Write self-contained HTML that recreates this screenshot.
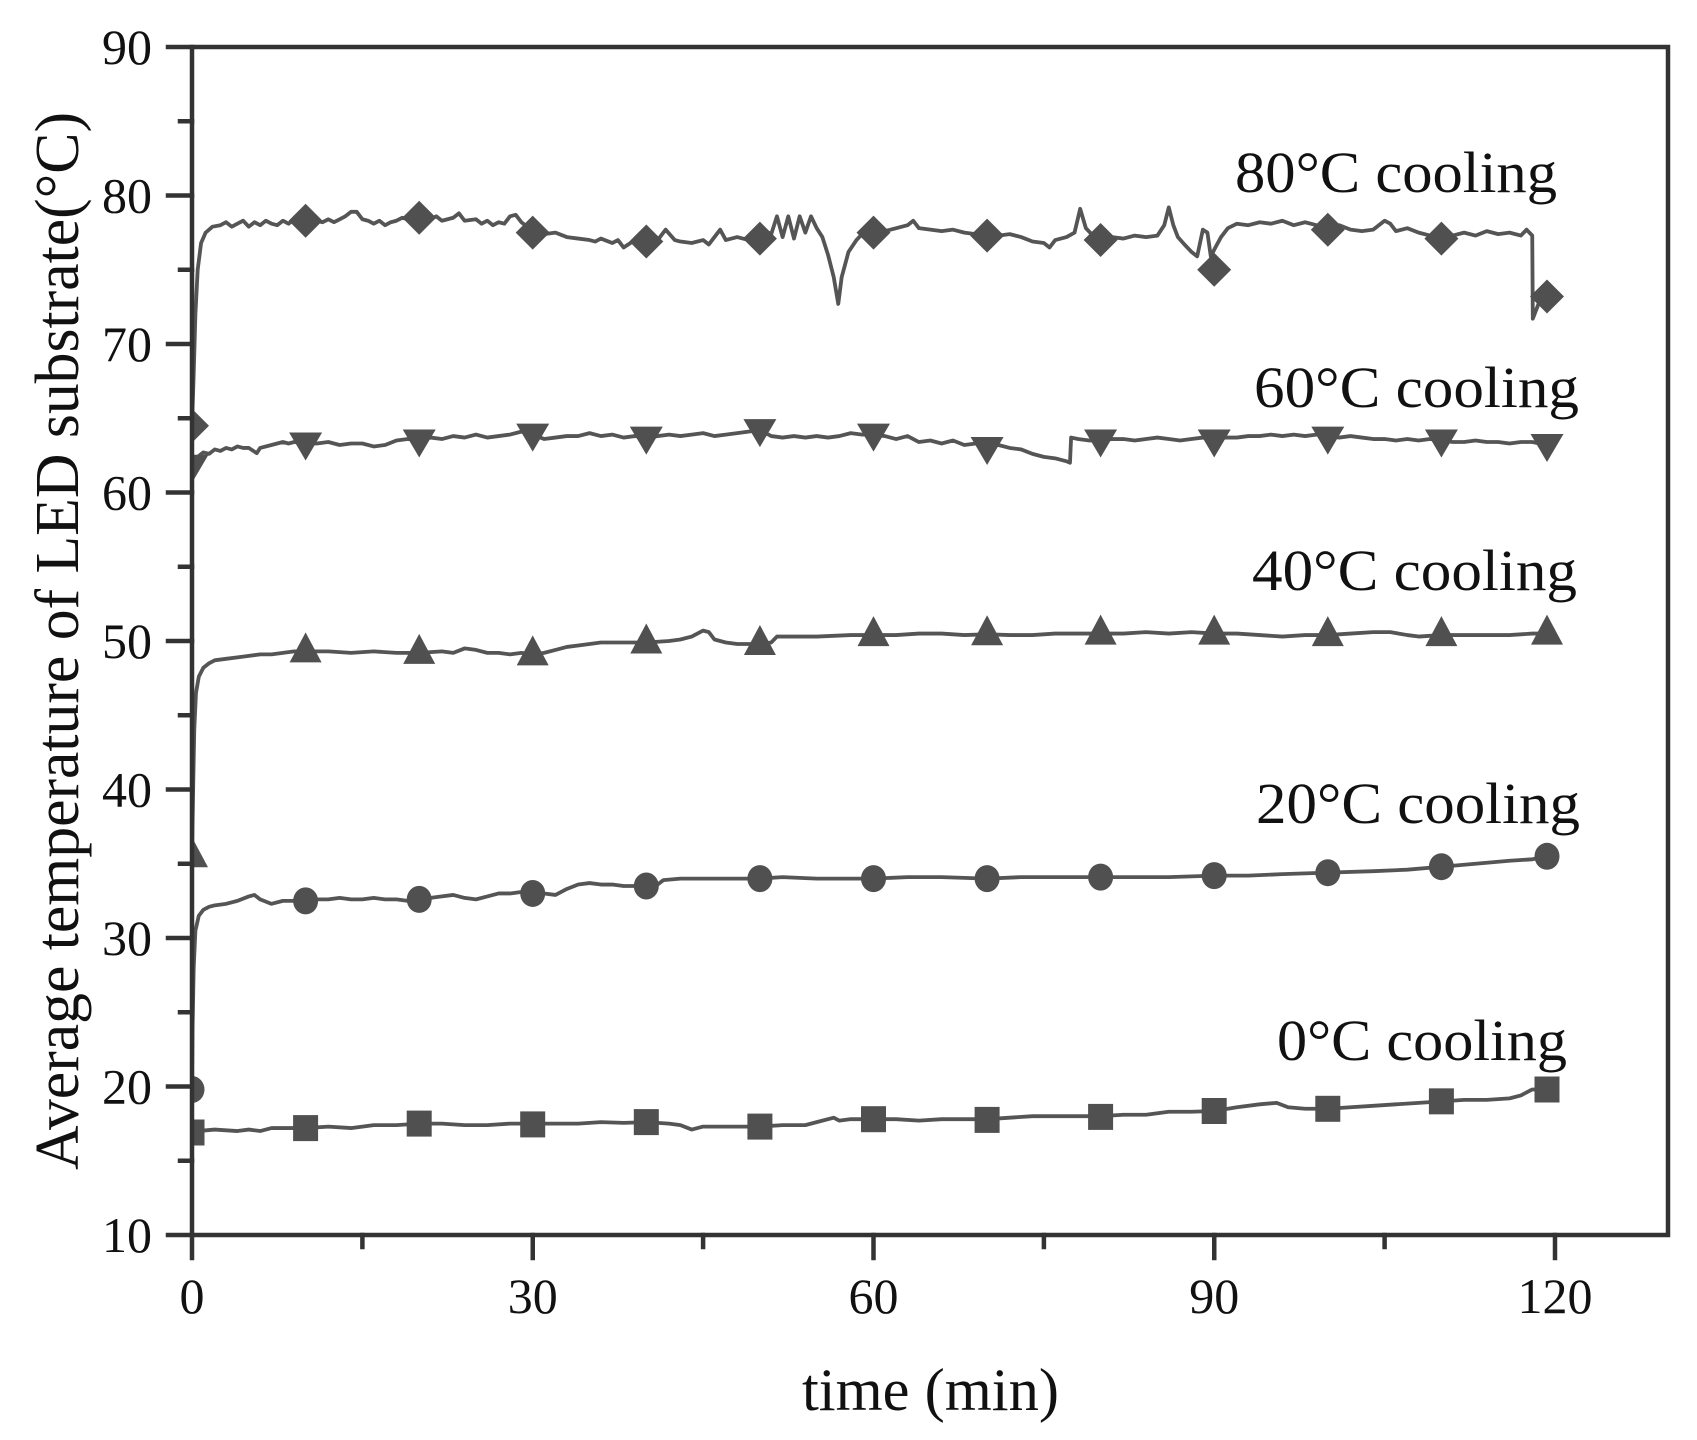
<!DOCTYPE html>
<html><head><meta charset="utf-8">
<style>
html,body{margin:0;padding:0;background:#fff;}
svg{display:block;}
text{font-family:"Liberation Serif","Times New Roman",serif;fill:#111;}
</style></head>
<body>
<svg width="1697" height="1440" viewBox="0 0 1697 1440" xmlns="http://www.w3.org/2000/svg">
<rect x="0" y="0" width="1697" height="1440" fill="#fff"/>
<defs><clipPath id="c"><rect x="192" y="47" width="1476" height="1188"/></clipPath></defs>

<g clip-path="url(#c)">
 <g transform="matrix(11.358 0 0 -14.85 192 1383.5)" fill="none" stroke="#555" stroke-width="3.8" stroke-linejoin="round" stroke-linecap="round">
  <!-- 80C -->
  <polyline vector-effect="non-scaling-stroke" points="0,64.5 0.15,68 0.3,72 0.5,75 0.8,76.8 1.2,77.5 1.8,77.9 2.5,78.0 3,78.2 3.5,77.9 4,78.1 4.5,78.3 5,77.9 5.5,78.2 6,78.0 6.5,78.3 7,78.1 7.5,78.0 8,78.3 8.5,78.1 9,78.4 9.5,78.2 10,78.3 10.5,78.1 11,78.3 11.5,78.2 12,78.4 12.5,78.2 13,78.4 13.5,78.6 14,78.9 14.5,78.9 15,78.4 15.5,78.3 16,78.1 16.5,78.3 17,78.0 17.5,78.2 18,78.3 18.5,78.5 19,78.4 20,78.5 21,78.4 21.5,78.6 22,78.3 23,78.5 23.5,78.8 24,78.3 25,78.4 25.5,78.1 26,78.3 26.5,78.0 27,78.2 27.5,78.1 28,78.6 28.5,78.7 29,78.2 29.5,77.9 30,77.6 31,77.4 32,77.5 33,77.2 34,77.1 35,77.0 35.5,76.9 36,77.1 37,76.8 37.5,77.0 38,76.5 39,77.0 40,76.9 41,77.0 41.7,77.7 42.5,77.0 43,76.9 44,76.8 45,77.0 45.5,76.7 46,77.2 46.5,77.7 47,77.0 48,77.2 49,77.0 50,77.0 50.5,77.6 51,77.4 51.5,78.6 52,77.2 52.5,78.6 53,77.1 53.5,78.6 54,77.5 54.5,78.6 55,77.8 55.5,77.2 56,76.0 56.5,74.5 56.9,72.7 57.2,74.5 57.8,76.2 58.5,77.0 59,77.4 60,77.5 60.5,77.8 61,77.6 62,77.8 63,78.0 63.5,78.3 64,77.8 65,77.7 66,77.6 67,77.7 68,77.5 69,77.4 70,77.3 71,77.3 72,77.4 73,77.2 74,76.9 75,76.8 75.5,76.5 76,77.0 77,77.2 77.7,77.5 78.2,79.1 78.7,77.8 79.2,77.4 80,77.0 81,77.2 82,77.1 83,77.3 84,77.2 85,77.3 85.6,78.0 86,79.2 86.4,78.0 86.8,77.2 87.5,76.6 88,76.2 88.5,75.9 89,77.7 89.4,77.5 89.7,75.9 90.1,76.5 90.6,77.2 91.2,77.8 92,78.1 93,78.0 94,78.2 95,78.1 96,78.3 97,78.0 98,78.2 99,78.0 100,77.8 101,78.0 102,77.7 103,77.6 104,77.7 105,78.3 105.5,78.1 106,77.6 107,77.8 108,77.5 109,77.3 110,77.1 111,77.3 112,77.5 113,77.3 114,77.6 115,77.4 116,77.5 117,77.3 117.5,77.7 118,77.3 118.05,71.7 118.3,72.2 118.6,72.8 119.3,73.2"/>
  <!-- 60C -->
  <polyline vector-effect="non-scaling-stroke" points="0,61.8 0.2,62.0 0.5,62.4 1,62.7 1.5,62.6 2,62.9 2.5,62.8 3,63.0 3.5,62.9 4,63.1 4.5,63.0 5,63.0 5.7,62.65 6,63.0 7,63.2 8,63.4 8.5,63.3 9,63.4 10,63.3 11,63.3 12,63.4 13,63.2 14,63.3 15,63.3 16,63.1 17,63.2 18,63.5 19,63.6 20,63.5 21,63.7 22,63.6 23,63.8 24,63.7 25,63.9 26,63.7 27,63.8 28,63.9 29,64.1 30,63.9 31,63.6 32,63.7 33,63.8 34,63.8 35,64.0 36,63.8 37,63.9 38,63.7 39,63.8 40,63.7 41,63.8 42,63.9 43,63.8 44,63.9 45,64.0 46,63.8 47,63.9 48,64.0 49,64.1 50,64.2 51,63.8 52,63.7 53,63.8 54,63.7 55,63.8 56,63.7 57,63.8 58,64.0 59,63.9 60,63.9 61,63.8 62,63.6 63,63.8 64,63.4 65,63.5 66,63.3 67,63.5 68,63.2 69,63.3 70,63.1 71,63.2 72,63.0 73,62.9 74,62.6 75,62.4 76,62.3 77,62.1 77.3,62.0 77.4,63.7 78,63.6 79,63.5 80,63.5 81,63.6 82,63.6 83,63.5 84,63.6 85,63.7 86,63.6 87,63.5 88,63.6 89,63.7 90,63.6 91,63.7 92,63.7 93,63.8 94,63.8 95,63.9 96,63.8 97,63.9 98,63.8 99,63.9 100,63.8 101,63.7 102,63.8 103,63.7 104,63.6 105,63.6 106,63.5 107,63.6 108,63.5 109,63.6 110,63.5 111,63.4 112,63.4 113,63.5 114,63.4 115,63.4 116,63.3 117,63.4 118,63.4 119.3,63.2"/>
  <!-- 40C -->
  <polyline vector-effect="non-scaling-stroke" points="0,35.5 0.1,40 0.2,44 0.35,46.5 0.6,47.6 1,48.2 1.5,48.5 2,48.7 3,48.8 4,48.9 5,49.0 6,49.1 7,49.1 8,49.2 9,49.3 10,49.3 12,49.3 14,49.2 16,49.3 18,49.2 20,49.2 22,49.3 23,49.2 24,49.5 25,49.4 26,49.2 27,49.2 28,49.1 29,49.2 30,49.1 31,49.2 32,49.4 33,49.6 34,49.7 35,49.8 36,49.9 38,49.9 40,49.9 42,50.0 43,50.1 44,50.3 45,50.7 45.5,50.6 46,50.1 47,49.9 48,49.8 49,49.8 50,49.8 51,49.9 51.5,50.3 53,50.3 55,50.3 58,50.4 60,50.4 62,50.4 64,50.5 66,50.5 68,50.4 70,50.45 72,50.4 74,50.4 76,50.5 78,50.5 80,50.5 82,50.5 84,50.6 86,50.5 88,50.6 90,50.5 92,50.5 94,50.4 96,50.3 98,50.4 100,50.4 102,50.5 104,50.6 105.5,50.6 107,50.4 108,50.3 110,50.4 112,50.4 114,50.4 116,50.4 118,50.5 119.3,50.5"/>
  <!-- 20C -->
  <polyline vector-effect="non-scaling-stroke" points="0,19.8 0.05,24 0.15,28 0.3,30.5 0.6,31.5 1,31.9 1.5,32.1 2,32.2 3,32.3 4,32.5 5,32.8 5.5,32.9 6,32.6 7,32.3 8,32.5 9,32.5 10,32.5 11,32.6 12,32.6 13,32.7 14,32.6 15,32.6 16,32.7 17,32.6 18,32.6 19,32.5 20,32.6 21,32.7 22,32.8 23,32.9 24,32.7 25,32.6 26,32.8 27,33.0 28,33.0 29,33.1 30,33.0 31,33.0 32,32.9 33,33.3 34,33.6 35,33.7 36,33.6 37,33.6 38,33.5 39,33.5 40,33.5 41,33.6 41.5,33.9 43,34.0 45,34.0 48,34.0 50,34.0 52,34.1 55,34.0 58,34.0 60,34.0 63,34.1 66,34.1 70,34.0 73,34.1 76,34.1 80,34.1 83,34.1 86,34.1 90,34.2 93,34.2 96,34.3 100,34.4 104,34.5 107,34.6 110,34.8 113,35.0 116,35.2 118,35.3 119.3,35.5"/>
  <!-- 0C -->
  <polyline vector-effect="non-scaling-stroke" points="0,16.9 0.5,17.0 2,17.1 4,17.0 5,17.1 6,17.0 7,17.2 8,17.2 10,17.2 12,17.3 14,17.2 16,17.4 18,17.4 20,17.5 22,17.5 24,17.4 26,17.4 28,17.5 30,17.5 32,17.5 34,17.5 36,17.6 38,17.55 40,17.6 42,17.5 43,17.4 44,17.1 45,17.3 47,17.3 50,17.3 52,17.4 54,17.4 55,17.6 56.5,17.9 57,17.7 58,17.8 60,17.8 62,17.8 64,17.7 66,17.8 68,17.8 70,17.8 72,17.9 74,18.0 76,18.0 78,18.0 80,18.0 82,18.1 84,18.1 86,18.3 88,18.3 90,18.35 92,18.6 94,18.8 95.5,18.9 96.5,18.6 98,18.5 100,18.5 102,18.6 104,18.7 106,18.8 108,18.9 110,19.0 112,19.1 114,19.1 116,19.2 117,19.4 118,19.8 119.3,19.8"/>
 </g>

 <g fill="#505050" stroke="none">
  <!-- diamonds (80C) -->
  <path d="M192 408.7l17 17-17 17-17-17z"/>
  <path d="M305.6 203.7l17 17-17 17-17-17z"/>
  <path d="M419.2 200.8l17 17-17 17-17-17z"/>
  <path d="M532.7 215.6l17 17-17 17-17-17z"/>
  <path d="M646.3 224.5l17 17-17 17-17-17z"/>
  <path d="M759.9 221.6l17 17-17 17-17-17z"/>
  <path d="M873.5 215.6l17 17-17 17-17-17z"/>
  <path d="M987.1 218.6l17 17-17 17-17-17z"/>
  <path d="M1100.6 223l17 17-17 17-17-17z"/>
  <path d="M1214.2 252.75l17 17-17 17-17-17z"/>
  <path d="M1327.8 212.7l17 17-17 17-17-17z"/>
  <path d="M1441.4 221.6l17 17-17 17-17-17z"/>
  <path d="M1547 279.5l17 17-17 17-17-17z"/>
  <!-- down triangles (60C) -->
  <path d="M175.5 454.8h33l-16.5 28z"/>
  <path d="M289.1 432.5h33l-16.5 28z"/>
  <path d="M402.7 429.5h33l-16.5 28z"/>
  <path d="M516.2 423.6h33l-16.5 28z"/>
  <path d="M629.8 426.6h33l-16.5 28z"/>
  <path d="M743.4 419.1h33l-16.5 28z"/>
  <path d="M857 423.6h33l-16.5 28z"/>
  <path d="M970.6 437h33l-16.5 28z"/>
  <path d="M1084.1 429.5h33l-16.5 28z"/>
  <path d="M1197.7 429.5h33l-16.5 28z"/>
  <path d="M1311.3 426.6h33l-16.5 28z"/>
  <path d="M1424.9 429.5h33l-16.5 28z"/>
  <path d="M1530.5 434h33l-16.5 28z"/>
  <!-- up triangles (40C) -->
  <path d="M192 837.3l16 30h-32z"/>
  <path d="M305.6 632.4l16 30h-32z"/>
  <path d="M419.2 633.9l16 30h-32z"/>
  <path d="M532.7 635.4l16 30h-32z"/>
  <path d="M646.3 623.5l16 30h-32z"/>
  <path d="M759.9 625l16 30h-32z"/>
  <path d="M873.5 616.1l16 30h-32z"/>
  <path d="M987.1 615.3l16 30h-32z"/>
  <path d="M1100.6 614.6l16 30h-32z"/>
  <path d="M1214.2 614.6l16 30h-32z"/>
  <path d="M1327.8 616.1l16 30h-32z"/>
  <path d="M1441.4 616.1l16 30h-32z"/>
  <path d="M1547 614.6l16 30h-32z"/>
  <!-- circles (20C) -->
  <ellipse cx="192" cy="1089.5" rx="12.5" ry="13.5"/>
  <ellipse cx="305.6" cy="900.9" rx="12.5" ry="13.5"/>
  <ellipse cx="419.2" cy="899.4" rx="12.5" ry="13.5"/>
  <ellipse cx="532.7" cy="893.45" rx="12.5" ry="13.5"/>
  <ellipse cx="646.3" cy="886" rx="12.5" ry="13.5"/>
  <ellipse cx="759.9" cy="878.6" rx="12.5" ry="13.5"/>
  <ellipse cx="873.5" cy="878.6" rx="12.5" ry="13.5"/>
  <ellipse cx="987.1" cy="878.6" rx="12.5" ry="13.5"/>
  <ellipse cx="1100.6" cy="877.1" rx="12.5" ry="13.5"/>
  <ellipse cx="1214.2" cy="875.6" rx="12.5" ry="13.5"/>
  <ellipse cx="1327.8" cy="872.7" rx="12.5" ry="13.5"/>
  <ellipse cx="1441.4" cy="866.7" rx="12.5" ry="13.5"/>
  <ellipse cx="1547" cy="856.3" rx="12.5" ry="13.5"/>
  <!-- squares (0C) -->
  <rect x="179.5" y="1119.5" width="25" height="26"/>
  <rect x="293.1" y="1115.1" width="25" height="26"/>
  <rect x="406.7" y="1110.6" width="25" height="26"/>
  <rect x="520.2" y="1111.4" width="25" height="26"/>
  <rect x="633.8" y="1109.1" width="25" height="26"/>
  <rect x="747.4" y="1113.6" width="25" height="26"/>
  <rect x="861" y="1106.2" width="25" height="26"/>
  <rect x="974.6" y="1106.9" width="25" height="26"/>
  <rect x="1088.1" y="1103.9" width="25" height="26"/>
  <rect x="1201.7" y="1098" width="25" height="26"/>
  <rect x="1315.3" y="1095.8" width="25" height="26"/>
  <rect x="1428.9" y="1088.35" width="25" height="26"/>
  <rect x="1534.5" y="1076.5" width="25" height="26"/>
 </g>
</g>

<!-- axes frame -->
<g stroke="#333" stroke-width="4.5" fill="none" stroke-linecap="square">
 <rect x="192" y="47" width="1476" height="1188"/>
 <path d="M168 47H192M168 195.5H192M168 344H192M168 492.5H192M168 641H192M168 789.5H192M168 938H192M168 1086.5H192M168 1235H192"/>
 <path d="M180 121.25H192M180 269.75H192M180 418.25H192M180 566.75H192M180 715.25H192M180 863.75H192M180 1012.25H192M180 1160.75H192"/>
 <path d="M192 1235V1258M532.75 1235V1258M873.5 1235V1258M1214.25 1235V1258M1555 1235V1258"/>
 <path d="M362.4 1235V1247M703.1 1235V1247M1043.9 1235V1247M1384.6 1235V1247"/>
</g>

<!-- y tick labels -->
<g font-size="50" text-anchor="end">
 <text x="152" y="64">90</text>
 <text x="152" y="212.5">80</text>
 <text x="152" y="361">70</text>
 <text x="152" y="509.5">60</text>
 <text x="152" y="658">50</text>
 <text x="152" y="806.5">40</text>
 <text x="152" y="955">30</text>
 <text x="152" y="1103.5">20</text>
 <text x="152" y="1252">10</text>
</g>
<!-- x tick labels -->
<g font-size="50" text-anchor="middle">
 <text x="192" y="1313">0</text>
 <text x="532.75" y="1313">30</text>
 <text x="873.5" y="1313">60</text>
 <text x="1214.25" y="1313">90</text>
 <text x="1555" y="1313">120</text>
</g>

<!-- axis titles -->
<text x="802" y="1410" font-size="60" textLength="257" lengthAdjust="spacingAndGlyphs">time (min)</text>
<text transform="translate(78,641) rotate(-90)" x="0" y="0" font-size="62" text-anchor="middle" textLength="1058" lengthAdjust="spacingAndGlyphs">Average temperature of LED substrate(°C)</text>

<!-- annotations -->
<g font-size="58">
 <text x="1235" y="192" textLength="322" lengthAdjust="spacingAndGlyphs">80°C cooling</text>
 <text x="1254" y="407" textLength="325" lengthAdjust="spacingAndGlyphs">60°C cooling</text>
 <text x="1252" y="590" textLength="325" lengthAdjust="spacingAndGlyphs">40°C cooling</text>
 <text x="1256" y="823" textLength="324" lengthAdjust="spacingAndGlyphs">20°C cooling</text>
 <text x="1277" y="1060" textLength="290" lengthAdjust="spacingAndGlyphs">0°C cooling</text>
</g>
</svg>
</body></html>
